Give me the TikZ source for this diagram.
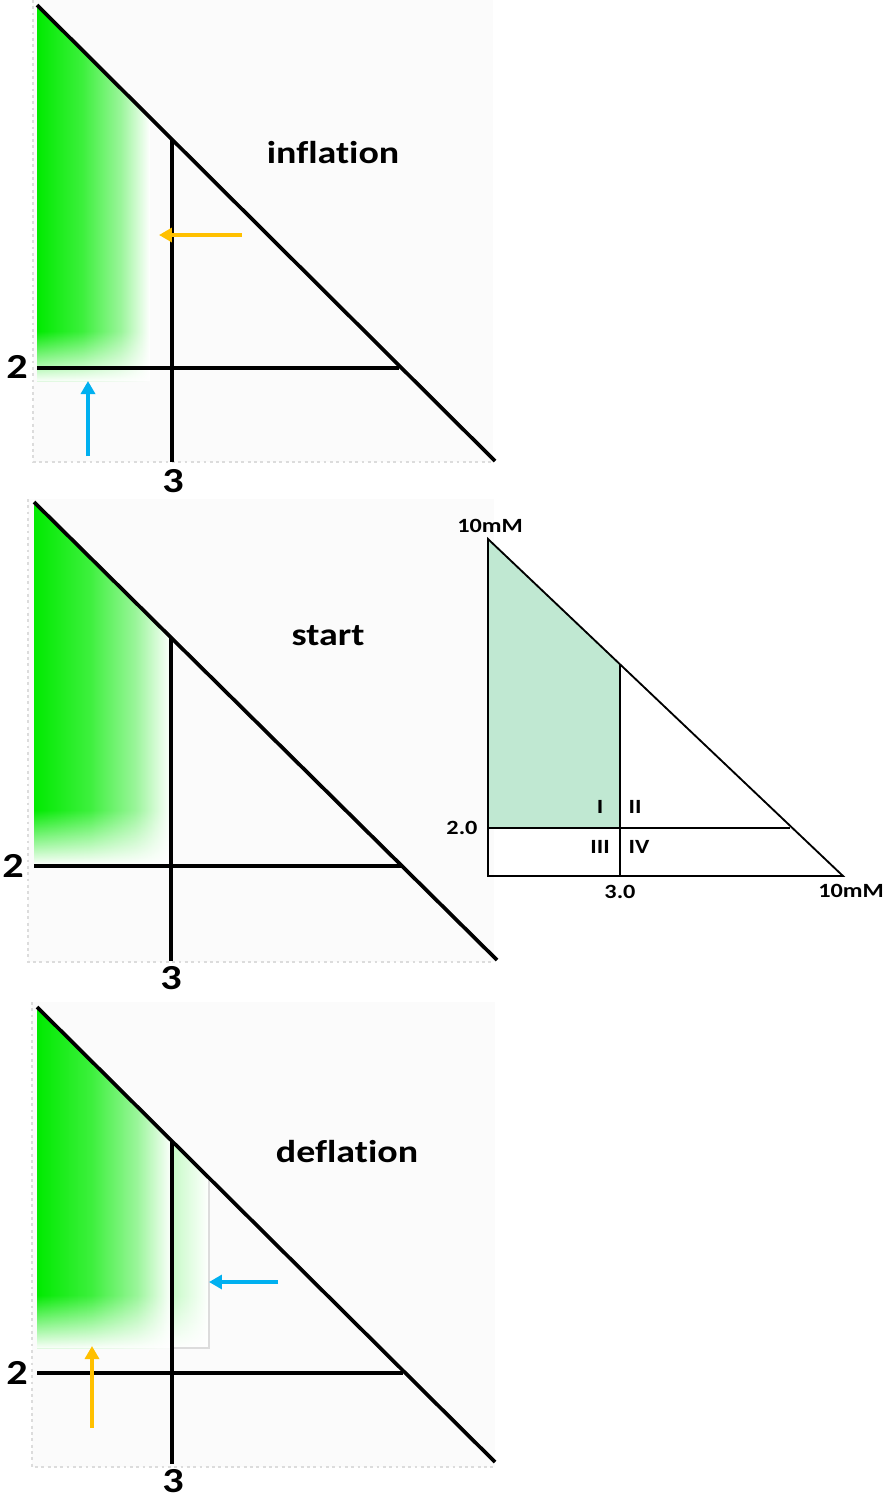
\documentclass[tikz,border=0pt]{standalone}
\usepackage{fontspec}
\setmainfont{Carlito}[FakeStretch=1.2,Ligatures=NoCommon]
\usepackage{tikz}
\usetikzlibrary{arrows.meta,fadings}
\definecolor{ink}{HTML}{000000}
\definecolor{leafgreen}{HTML}{00EA00}
\definecolor{midgreen}{HTML}{3CF03C}
\definecolor{palegreen}{HTML}{9AF59A}
\definecolor{mint}{HTML}{C0E8D2}
\definecolor{amberarr}{HTML}{FFC000}
\definecolor{skyarr}{HTML}{00B0F0}
\definecolor{plotbg}{HTML}{FBFBFB}
\definecolor{plotedge}{HTML}{DCDCDC}
\pgfdeclarehorizontalshading{greenwash}{100bp}{color(0bp)=(leafgreen); color(25bp)=(leafgreen);
  color(45bp)=(midgreen); color(62bp)=(palegreen); color(75bp)=(white); color(100bp)=(white)}
\tikzfading[name=fadedown,top color=transparent!100,bottom color=transparent!0]
\tikzset{
  plotarea/.style={fill=plotbg,draw=none},
  plotaxis/.style={draw=plotedge,line width=1.6pt,dotted},
  heavyline/.style={draw=ink,line width=2.1pt},
  thinline/.style={draw=ink,line width=1.05pt},
  greenfade/.style={shading=greenwash},
  panellabel/.style={font=\bfseries\fontsize{18}{20}\selectfont},
  ticklabel/.style={font=\bfseries\fontsize{20}{22}\selectfont},
  keylabel/.style={font=\bfseries\fontsize{11.5}{13}\selectfont,inner sep=0pt},
  ambarrow/.style={-{Triangle[length=2.6mm,width=2.8mm]},line width=1.9pt,draw=amberarr},
  skyarrow/.style={-{Triangle[length=2.6mm,width=2.8mm]},line width=1.9pt,draw=skyarr}
}

\begin{document}
\begin{tikzpicture}[x=0.02cm,y=-0.02cm]
  \path[use as bounding box] (0,0) rectangle (890,1502);

  % inflation
  \begin{scope}[shift={(37,5)}]
    \fill[plotarea] (-4,-5) rectangle (456,457);
    \draw[plotaxis] (-4,-5) -- (-4,457) -- (456,457);
    \begin{scope}
      \clip (0,0) -- (113,113) -- (113,376) -- (0,376) -- cycle;
      \shade[greenfade] (0,0) rectangle (113,376);
      \fill[white,path fading=fadedown] (0,326) rectangle (113,377);
    \end{scope}
    \coordinate (iTop) at (0,0);
    \coordinate (iEnd) at (458,456);
    \coordinate (iV1) at (135,135);
    \coordinate (iV2) at (135,457);
    \coordinate (iH1) at (0,363);
    \coordinate (iH2) at (362,363);
    \draw[heavyline] (iTop) -- (iEnd);
    \draw[heavyline] (iV1) -- (iV2);
    \draw[heavyline] (iH1) -- (iH2);
    \node[ticklabel] (iTwo) at (-20,362) {2};
    \node[ticklabel] (iThree) at (136,476) {3};
    \node[panellabel] (iName) at (296,148) {inflation};
    \coordinate (iOrA) at (205,230);
    \coordinate (iOrB) at (122,230);
    \coordinate (iBlA) at (51,451);
    \coordinate (iBlB) at (51,376);
    \draw[ambarrow] (iOrA) -- (iOrB);
    \draw[skyarrow] (iBlA) -- (iBlB);
  \end{scope}

  % start
  \begin{scope}[shift={(34,502)}]
    \fill[plotarea] (-6,-3) rectangle (460,460);
    \draw[plotaxis] (-6,-3) -- (-6,460) -- (460,460);
    \begin{scope}
      \clip (0,0) -- (137,137) -- (137,362) -- (0,362) -- cycle;
      \shade[greenfade] (0,0) rectangle (137,362);
      \fill[white,path fading=fadedown] (0,308) rectangle (137,363);
    \end{scope}
    \coordinate (sTop) at (0,0);
    \coordinate (sEnd) at (463,458);
    \coordinate (sV1) at (137,136);
    \coordinate (sV2) at (137,459);
    \coordinate (sH1) at (0,364);
    \coordinate (sH2) at (368,364);
    \draw[heavyline] (sTop) -- (sEnd);
    \draw[heavyline] (sV1) -- (sV2);
    \draw[heavyline] (sH1) -- (sH2);
    \node[ticklabel] (sTwo) at (-21,364) {2};
    \node[ticklabel] (sThree) at (137,476) {3};
    \node[panellabel] (sName) at (294,134) {start};
  \end{scope}

  % deflation
  \begin{scope}[shift={(37,1007)}]
    \fill[plotarea] (-5,-5) rectangle (458,460);
    \draw[plotaxis] (-5,-5) -- (-5,460) -- (458,460);
    \begin{scope}
      \clip (0,0) -- (172,171) -- (172,341) -- (0,341) -- cycle;
      \shade[left color=leafgreen!22!white,right color=white] (135,130) rectangle (172,341);
      \shade[greenfade] (0,0) rectangle (135,341);
      \fill[white,path fading=fadedown] (0,288) rectangle (172,342);
    \end{scope}
    \coordinate (dBoxA) at (172,172);
    \coordinate (dBoxB) at (172,341);
    \coordinate (dBoxC) at (135,341);
    \draw[plotedge,line width=0.6pt] (dBoxA) -- (dBoxB) -- (dBoxC);
    \coordinate (dTop) at (0,0);
    \coordinate (dEnd) at (458,455);
    \coordinate (dV1) at (135,135);
    \coordinate (dV2) at (135,457);
    \coordinate (dH1) at (0,366);
    \coordinate (dH2) at (366,366);
    \draw[heavyline] (dTop) -- (dEnd);
    \draw[heavyline] (dV1) -- (dV2);
    \draw[heavyline] (dH1) -- (dH2);
    \node[ticklabel] (dTwo) at (-20,366) {2};
    \node[ticklabel] (dThree) at (136,474) {3};
    \node[panellabel] (dName) at (310,145) {deflation};
    \coordinate (dBlA) at (241,275);
    \coordinate (dBlB) at (172,275);
    \coordinate (dOrA) at (55,421);
    \coordinate (dOrB) at (55,339);
    \draw[skyarrow] (dBlA) -- (dBlB);
    \draw[ambarrow] (dOrA) -- (dOrB);
  \end{scope}

  % key triangle
  \coordinate (kTop) at (488,539);
  \coordinate (kOrig) at (488,876);
  \coordinate (kRight) at (843,876);
  \coordinate (kV1) at (620,664);
  \coordinate (kV2) at (620,876);
  \coordinate (kH1) at (488,828);
  \coordinate (kH2) at (790,828);
  \fill[mint] (kTop) -- (kV1) -- (620,828) -- (kH1) -- cycle;
  \draw[thinline] (kTop) -- (kOrig) -- (kRight) -- cycle;
  \draw[thinline] (kV1) -- (kV2);
  \draw[thinline] (kH1) -- (kH2);
  \node[keylabel] (kTopLbl) at (490,526) {10mM};
  \node[keylabel] (kRightLbl) at (851,891) {10mM};
  \node[keylabel] (kTwo) at (462,828) {2.0};
  \node[keylabel] (kThree) at (620,892) {3.0};
  \node[keylabel] (kI) at (600,807) {I};
  \node[keylabel] (kII) at (635,807) {II};
  \node[keylabel] (kIII) at (600,847) {III};
  \node[keylabel] (kIV) at (639,847) {IV};
\end{tikzpicture}
\end{document}
